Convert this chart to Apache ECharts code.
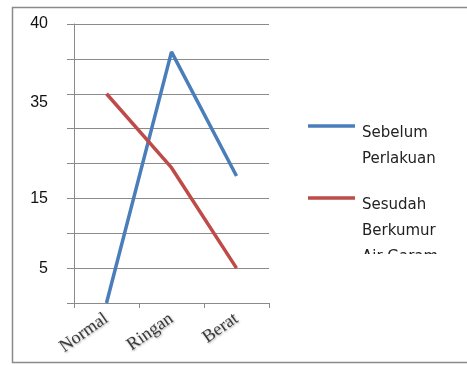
<!DOCTYPE html>
<html>
<head>
<meta charset="utf-8">
<script src="https://cdn.jsdelivr.net/npm/echarts@6/dist/echarts.min.js"></script>
<style>
html,body{margin:0;padding:0;background:#fff;overflow:hidden;}
#chart{width:467px;height:365px;}
</style>
</head>
<body>
<div id="chart"></div>
<script>
var categories = ['Normal', 'Ringan', 'Berat'];
var seriesNames = ['Sebelum\nPerlakuan', 'Sesudah\nBerkumur\nAir Garam'];
var sebelum = [0, 36, 18.2];
var sesudah = [30, 19.4, 5];
var yTickValues = [5, 15, 28.7, 40];
var yTickLabels = ['5', '15', '35', '40'];
var colors = ['#4a7ebb', '#be4b48'];

var chart = echarts.init(document.getElementById('chart'), null, {renderer: 'canvas'});

var legendGraphics = [];
var legendTop = [126, 198];
seriesNames.forEach(function (name, i) {
  legendGraphics.push({
    type: 'line', shape: {x1: 308, y1: legendTop[i], x2: 355, y2: legendTop[i]},
    style: {stroke: colors[i], lineWidth: 3.5}, silent: true
  });
  legendGraphics.push({
    type: 'text', x: 362, y: legendTop[i] - 6,
    style: {text: name, fill: '#222', font: '15px "DejaVu Sans"', lineHeight: 26, verticalAlign: 'top'},
    silent: true
  });
});
legendGraphics.push({type: 'rect', shape: {x: 356, y: 254, width: 108, height: 30}, style: {fill: '#fff'}, z: 200, silent: true});
// outer frame: top, left, bottom (right edge lies outside the picture)
legendGraphics.push({type: 'polyline', shape: {points: [[467, 7.5], [12.5, 7.5], [12.5, 362.5], [467, 362.5]]},
  style: {fill: null, stroke: '#8a8a8a', lineWidth: 1.5}, silent: true, z: 210});

chart.setOption({
  animation: false,
  backgroundColor: '#fff',
  grid: {left: 74, top: 24, right: 198, bottom: 62, containLabel: false},
  xAxis: {
    type: 'category', data: categories, boundaryGap: true,
    axisLine: {lineStyle: {color: '#8a8a8a', width: 1}},
    axisTick: {show: true, length: 5, lineStyle: {color: '#8a8a8a'}},
    axisLabel: {
      rotate: 35, margin: 14, interval: 0,
      fontFamily: 'Liberation Serif', fontSize: 18, color: '#3a3a3a',
      textShadowColor: 'rgba(0,0,0,0.35)', textShadowBlur: 2, textShadowOffsetX: 1, textShadowOffsetY: 1
    },
    splitLine: {show: false}
  },
  yAxis: {
    type: 'value', min: 0, max: 40, interval: 5,
    axisLine: {show: true, lineStyle: {color: '#8a8a8a', width: 1}},
    axisTick: {show: true, inside: false, length: 7, lineStyle: {color: '#8a8a8a'}},
    splitLine: {show: true, lineStyle: {color: '#8a8a8a', width: 1}},
    axisLabel: {
      customValues: yTickValues,
      formatter: function (v) {
        var idx = yTickValues.indexOf(v);
        return idx >= 0 ? yTickLabels[idx] : '';
      },
      margin: 26, fontFamily: 'Liberation Sans', fontSize: 16, color: '#111',
      padding: [8, 0, 0, 0]
    }
  },
  series: [
    {name: seriesNames[0], type: 'line', data: sebelum, showSymbol: false, symbol: 'none',
     lineStyle: {color: colors[0], width: 3.5}, itemStyle: {color: colors[0]}},
    {name: seriesNames[1], type: 'line', data: sesudah, showSymbol: false, symbol: 'none',
     lineStyle: {color: colors[1], width: 3.5}, itemStyle: {color: colors[1]}}
  ],
  graphic: legendGraphics
});
</script>
</body>
</html>
